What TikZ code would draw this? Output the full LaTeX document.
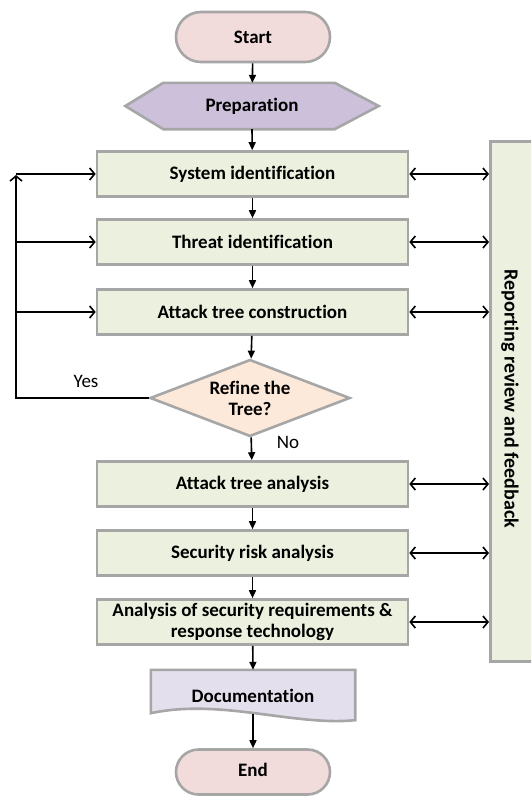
\documentclass[tikz,border=0pt]{standalone}
\usepackage{fontspec}
\setmainfont{Carlito}[Ligatures=NoCommon]
\usetikzlibrary{shapes.misc,shapes.geometric,arrows.meta}
\definecolor{bordergray}{HTML}{A6A6A6}
\definecolor{boxgreen}{HTML}{EBF1DE}
\definecolor{startpink}{HTML}{F2DCDB}
\definecolor{preplav}{HTML}{CCC0DA}
\definecolor{diapeach}{HTML}{FDE9D9}
\definecolor{doclav}{HTML}{E4DFEC}
\begin{document}
\begin{tikzpicture}[x=1pt,y=-1pt,
  every node/.style={font=\fontsize{19}{21}\selectfont\bfseries, text=black, align=center},
  frame/.style={draw=bordergray, line width=2.6pt},
  stepbox/.style={frame, fill=boxgreen, minimum width=311pt, minimum height=45pt, inner sep=0pt},
  term/.style={frame, fill=startpink, rounded rectangle, minimum width=154pt, minimum height=50pt, inner sep=0pt},
  flow/.style={line width=1.6pt, -{Triangle[length=8pt,width=7pt]}},
  both/.style={line width=1.6pt, {Straight Barb[length=5pt,width=12pt]}-{Straight Barb[length=5pt,width=12pt]}},
  loopline/.style={line width=1.6pt, -{Straight Barb[length=5pt,width=12pt]}},
  plain/.style={font=\fontsize{19}{21}\selectfont}
]
\useasboundingbox (0,0) rectangle (531,796);
\fill[white] (0,0) rectangle (531,796);
\clip (0,0) rectangle (531,796);

% side box
\node[frame, fill=boxgreen, minimum width=60pt, minimum height=520pt, anchor=north west] (side) at (489,140) {};
\node[rotate=-90, font=\fontsize{20}{22}\selectfont\bfseries] (sidetext) at (510,399) {Reporting review and feedback};

\node[term] (start) at (253,37) {Start};

\node[minimum width=253pt, minimum height=46pt, inner sep=0pt] (prep) at (252,106) {};
\draw[frame, fill=preplav] (prep.west) -- ([xshift=38pt]prep.north west) -- ([xshift=-44pt]prep.north east) -- (prep.east) -- ([xshift=-44pt]prep.south east) -- ([xshift=38pt]prep.south west) -- cycle;
\node at (prep) {Preparation};

\node[stepbox] (sys) at (252.5,174) {System identification};
\node[stepbox] (threat) at (252.5,242) {Threat identification};
\node[stepbox] (atc) at (252.5,312) {Attack tree construction};
\node[frame, fill=diapeach, diamond, aspect=2.6, inner sep=0pt, minimum width=200pt, minimum height=77pt] (dec) at (250,398) {Refine the\\Tree?};
\node[stepbox] (ata) at (252.5,484) {Attack tree analysis};
\node[stepbox] (sra) at (252.5,553) {Security risk analysis};
\node[stepbox] (asr) at (252.5,622) {Analysis of security requirements \&\\response technology};

\node[minimum width=204pt, minimum height=50pt, inner sep=0pt] (doc) at (253,695) {};
\draw[frame, fill=doclav] (doc.north west) -- (doc.north east) -- (doc.south east)
  .. controls ([xshift=-62pt,yshift=-6pt]doc.south east) and ([xshift=70pt,yshift=22pt]doc.south west) .. ([yshift=7pt]doc.south west) -- cycle;
\node at ([yshift=-1pt]doc.center) {Documentation};

\node[term, minimum height=45pt] (end) at (253,772) {\raisebox{5pt}{End}};

% main flow
\draw[flow] (start) -- (prep);
\draw[flow] (prep.south) -- (sys);
\draw[flow] (sys) -- (threat);
\draw[flow] (threat) -- (atc);
\draw[flow] (atc) -- (dec);
\draw[flow] (dec) -- (ata);
\draw[flow] (ata) -- (sra);
\draw[flow] (sra) -- (asr);
\draw[flow] (asr) -- (doc.north);
\draw[flow] ([yshift=6pt]doc.south) -- (end);

% loop back
\coordinate (lb) at (16,398);
\coordinate (lt) at (16,175);
\coordinate (l1) at (16,174);
\coordinate (l2) at (16,242);
\coordinate (l3) at (16,312);
\draw[loopline] (dec.west) -- (lb) -- (lt);
\draw[loopline] (l1) -- (sys.west);
\draw[loopline] (l2) -- (threat.west);
\draw[loopline] (l3) -- (atc.west);
\node[plain] (yes) at (86,381) {Yes};
\node[plain] (no) at (288,442) {No};

% feedback arrows
\foreach \n in {sys,threat,atc,ata,sra,asr}{
  \draw[both] (\n.east) -- (\n.east -| side.west);
}
\end{tikzpicture}
\end{document}
